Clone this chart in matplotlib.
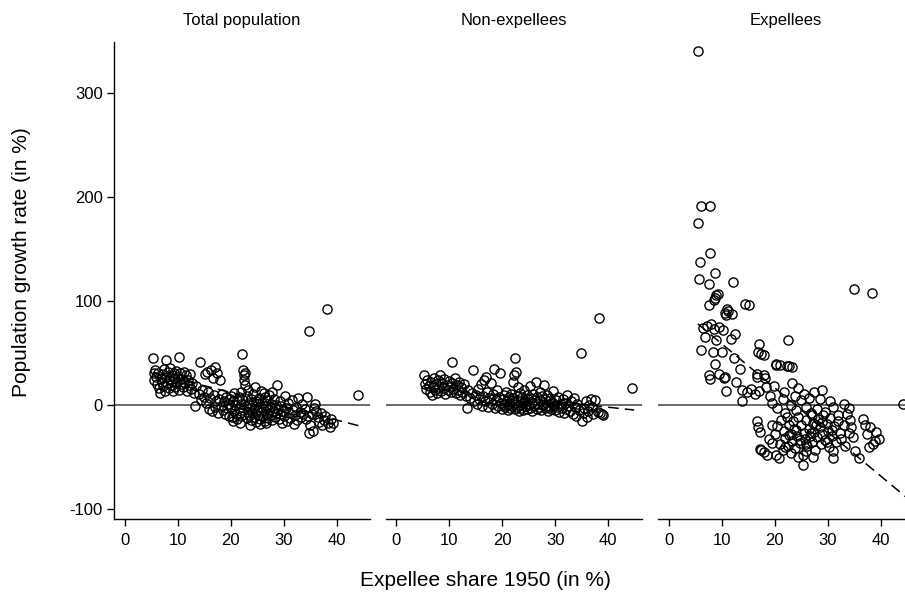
import matplotlib
matplotlib.use("Agg")
import matplotlib.pyplot as plt
import numpy as np

plt.rcParams['font.family'] = ['Liberation Sans', 'DejaVu Sans']
plt.rcParams['axes.unicode_minus'] = False

panel_titles = ["Total population", "Non-expellees", "Expellees"]
x_label = "Expellee share 1950 (in %)"
y_label = "Population growth rate (in %)"
x_ticks = [0, 10, 20, 30, 40]
y_ticks = [-100, 0, 100, 200, 300]

# ---- Total population (x, y) ----
total_pts = [
    (5.3, 45), (5.5, 30), (5.6, 24), (5.8, 33), (6.0, 27), (6.1, 20), (6.3, 30), (6.5, 16), (6.6, 11), (6.8, 25),
    (7.0, 22), (7.1, 29), (7.3, 18), (7.5, 34), (7.6, 13), (7.8, 43), (7.9, 27), (8.0, 21), (8.1, 31), (8.3, 16),
    (8.4, 25), (8.6, 35), (8.7, 19), (8.9, 28), (9.0, 23), (9.1, 13), (9.3, 30), (9.4, 26), (9.6, 17), (9.7, 32),
    (9.9, 22), (10.0, 27), (10.2, 14), (10.3, 46), (10.4, 30), (10.6, 20), (10.8, 25), (11.0, 17), (11.2, 31),
    (11.3, 22), (11.5, 28), (11.7, 13), (11.9, 24), (12.1, 19), (12.3, 29), (12.5, 15), (12.8, 21), (13.0, 11),
    (13.3, -1), (13.5, 18),
    (14.0, 10), (14.2, 41), (14.4, 4), (14.6, 14), (14.9, 7), (15.1, 29), (15.3, 2), (15.5, 31), (15.7, 12),
    (16.0, -4), (16.1, 6), (16.3, 33), (16.5, -6), (16.6, 26), (16.8, 9), (17.0, 36), (17.1, -2), (17.3, 3),
    (17.5, 30), (17.7, -8), (17.9, 5), (18.0, 24), (18.2, -1), (18.4, 10), (18.6, -5), (18.8, 3), (19.0, -9),
    (19.1, 7), (19.3, -3), (19.5, 1), (19.7, -11), (19.9, 5),
    (20.0, -2), (20.1, 8), (20.3, -12), (20.4, 3), (20.6, -6), (20.7, 11), (20.9, 0), (21.0, -9), (21.2, 4),
    (21.3, -14), (21.5, -3), (21.6, 7), (21.8, -8), (21.9, 1), (22.0, -11), (22.2, 49), (22.2, 5), (22.3, 33),
    (22.4, -5), (22.5, 28), (22.6, 24), (22.7, 19), (22.8, 30), (22.9, -1), (23.0, -13), (23.1, 8), (23.2, -7),
    (23.4, 2), (23.5, -10), (23.6, -3), (23.8, 5), (23.9, -15), (24.0, 0), (24.1, -8), (24.3, 10), (24.4, -4),
    (24.5, -12), (24.7, 3), (24.8, -17), (24.9, -6), (25.0, 1), (25.2, -10), (25.3, 6), (25.4, -2), (25.6, -14),
    (25.7, 13), (25.8, -7), (26.0, 2), (26.1, -11), (26.2, -4), (26.4, 7), (26.5, -16), (26.6, -1), (26.8, -9),
    (26.9, 4), (27.0, -13), (27.2, -5), (27.3, 9), (27.4, -2), (27.6, -10), (27.7, 1), (27.9, -15), (28.0, -6),
    (28.1, 5), (28.3, -3), (28.4, -12), (28.6, 0), (28.7, -8), (28.8, 19), (29.0, -4), (29.1, -14), (29.3, 3),
    (29.4, -9), (29.6, -1), (29.7, -18), (29.9, -6), (22.0, 12), (23.3, 14), (24.6, 17), (26.3, 11), (27.8, 12),
    (20.5, -16), (21.7, -18), (23.7, -20), (25.5, -19), (26.7, -18),
    (30.0, -11), (30.2, 8), (30.4, -3), (30.6, -16), (30.8, 2), (31.0, -8), (31.2, -13), (31.5, 4), (31.7, -5),
    (31.9, -19), (32.1, -10), (32.3, -2), (32.6, -15), (32.8, 6), (33.0, -7), (33.2, -12), (33.5, 1), (33.7, -9),
    (34.0, -4), (34.2, -14), (34.4, 7), (34.6, -11), (34.8, 71), (34.8, -27), (35.0, -20), (35.3, -9),
    (35.5, -25), (35.8, -3), (36.0, 1), (36.2, -6), (36.4, -12), (36.6, -17), (37.0, -8), (37.2, -20),
    (37.6, -15), (37.9, -11), (38.1, 92), (38.4, -18), (38.8, -22), (39.3, -18), (39.0, -14), (44.0, 9),
]
total_x = [p[0] for p in total_pts]
total_y = [p[1] for p in total_pts]

# ---- Non-expellees (x, y) ----
nonexp_pts = [
    (5.3, 28), (5.5, 20), (5.7, 15), (5.9, 24), (6.1, 18), (6.3, 12), (6.5, 22), (6.7, 9), (6.9, 17), (7.1, 26),
    (7.3, 14), (7.5, 20), (7.7, 11), (7.9, 24), (8.1, 17), (8.3, 28), (8.5, 13), (8.7, 21), (8.9, 16), (9.1, 25),
    (9.3, 10), (9.5, 19), (9.7, 14), (9.9, 23), (10.1, 17), (10.3, 12), (10.5, 41), (10.6, 21), (10.8, 15),
    (11.0, 26), (11.2, 11), (11.4, 19), (11.6, 14), (11.8, 22), (12.0, 9), (12.2, 17), (12.5, 12), (12.8, 20),
    (13.1, 8), (13.4, -3), (13.6, 14),
    (14.0, 6), (14.3, 11), (14.5, 33), (14.7, 3), (15.0, 9), (15.2, 1), (15.4, 15), (15.7, 5), (16.0, 20),
    (16.2, -1), (16.4, 8), (16.6, 24), (16.8, 3), (17.0, 27), (17.2, 12), (17.4, -2), (17.6, 6), (17.8, 21),
    (18.0, 1), (18.2, 10), (18.4, 34), (18.6, -3), (18.8, 4), (19.0, 14), (19.2, -1), (19.4, 7), (19.6, 30),
    (19.8, 2),
    (20.0, -4), (20.1, 5), (20.3, 9), (20.4, 0), (20.6, -2), (20.7, 12), (20.9, 3), (21.0, -5), (21.2, 7),
    (21.3, 1), (21.5, -3), (21.6, 10), (21.8, 4), (21.9, -1), (22.0, 6), (22.1, 22), (22.2, 28), (22.4, 45),
    (22.4, -4), (22.5, 2), (22.6, 31), (22.7, 8), (22.8, -2), (22.9, 17), (23.0, 4), (23.2, -6), (23.3, 11),
    (23.4, 0), (23.6, -3), (23.7, 7), (23.9, 2), (24.0, -5), (24.1, 14), (24.3, 3), (24.4, -1), (24.6, 9),
    (24.7, -4), (24.9, 5), (25.0, 0), (25.2, 18), (25.3, -3), (25.4, 6), (25.6, 2), (25.7, -6), (25.9, 10),
    (26.0, -1), (26.2, 4), (26.3, 22), (26.5, -4), (26.6, 7), (26.8, 1), (26.9, -2), (27.1, 12), (27.2, 4),
    (27.4, -5), (27.5, 8), (27.7, 0), (27.8, 19), (28.0, -3), (28.1, 5), (28.3, -1), (28.5, 9), (28.6, -6),
    (28.8, 3), (29.0, -2), (29.1, 6), (29.3, -4), (29.5, 2), (29.6, 13), (29.8, -1),
    (30.0, -5), (30.2, 4), (30.4, -2), (30.6, 7), (30.8, -7), (31.0, 1), (31.2, -3), (31.4, 5), (31.6, -8),
    (31.8, 2), (32.0, -4), (32.3, 9), (32.5, -1), (32.8, -6), (33.0, 3), (33.3, -9), (33.5, 6), (33.8, -2),
    (34.0, -11), (34.2, 1), (34.5, -5), (34.8, 50), (35.0, -16), (35.2, -8), (35.5, -3), (35.8, 3), (36.0, -12),
    (36.2, -6), (36.4, 0), (36.7, 5), (37.0, -2), (37.2, -9), (37.5, 4), (38.2, 83), (38.0, -7), (38.5, -8),
    (38.8, -9), (39.0, -10), (44.4, 16),
]
nonexp_x = [p[0] for p in nonexp_pts]
nonexp_y = [p[1] for p in nonexp_pts]

# ---- Expellees (x, y) ----
exp_pts = [
    (5.5, 340), (6.2, 191), (7.9, 191), (5.5, 175), (7.9, 146), (6.0, 137), (8.7, 127), (5.7, 121), (7.7, 116),
    (12.1, 118), (35.0, 111), (38.4, 107), (8.6, 101), (8.8, 103), (9.0, 105), (9.3, 106), (7.7, 96), (14.5, 97),
    (15.1, 96), (10.6, 88), (11.0, 92), (11.3, 90), (11.9, 87), (10.9, 86), (6.5, 74), (7.2, 76), (8.0, 78),
    (8.5, 73), (9.5, 75), (10.3, 72), (6.8, 65), (9.0, 62), (11.8, 63), (12.6, 68), (6.2, 53), (8.3, 51),
    (10.0, 51), (12.3, 45), (17.0, 58), (16.9, 51), (17.5, 49), (18.0, 48), (22.5, 62), (8.8, 39), (13.4, 34),
    (20.2, 39), (21.0, 38), (22.8, 37), (23.3, 36), (7.7, 28), (10.5, 26), (16.6, 29), (18.0, 28), (7.9, 25),
    (9.5, 29), (10.6, 27), (10.9, 13), (13.8, 14), (13.9, 3), (16.7, 27), (18.2, 26), (15.5, 15), (16.3, 10),
    (17.0, 13), (18.3, 17), (19.2, 8), (20.3, 38), (22.4, 37), (23.3, 21), (24.5, 16), (25.5, 10), (26.5, 6),
    (27.5, 12), (28.5, 5), (29.0, 14.5), (30.4, 3), (12.8, 22), (14.8, 12), (19.8, 18), (21.7, 12), (23.8, 8),
    (19.5, 2), (20.5, -3), (21.5, 5), (22.0, -8), (23.0, 0), (24.0, -5), (25.0, 4), (26.0, -2), (27.0, -10),
    (28.0, -4), (29.5, -7), (31.0, -2), (32.0, -10), (33.0, 1), (34.0, -3), (44.2, 1),
    (16.6, -16), (16.8, -22), (17.2, -26), (17.2, -43), (17.5, -44), (18.0, -46), (18.5, -48), (19.0, -33),
    (19.5, -20), (20.0, -28), (20.3, -48), (20.8, -51), (21.0, -38), (21.5, -44), (21.2, -15), (21.8, -25),
    (22.0, -32), (22.3, -12), (22.5, -40), (22.8, -20), (23.0, -28), (23.2, -35), (23.5, -16), (23.8, -42),
    (24.0, -24), (24.2, -30), (24.5, -12), (24.7, -37), (25.0, -20), (25.3, -58), (25.3, -48), (25.5, -27),
    (25.7, -33), (26.0, -15), (26.2, -40), (26.4, -23), (26.6, -30), (26.8, -8), (27.0, -36), (27.2, -50),
    (27.2, -18), (27.5, -26), (27.7, -44), (28.0, -31), (28.2, -14), (28.5, -22), (28.7, -38), (29.0, -28),
    (29.2, -10), (29.5, -34), (29.8, -19), (30.0, -25), (30.3, -41), (30.5, -13), (30.8, -30), (31.0, -45),
    (31.0, -51), (31.3, -21), (31.6, -36), (32.0, -16), (32.3, -27), (32.6, -33), (33.0, -20), (33.3, -40),
    (33.6, -9), (34.0, -27), (34.2, -15), (34.4, -22), (34.8, -31), (35.2, -45), (36.0, -51), (36.6, -14),
    (37.0, -20), (37.5, -28), (38.0, -22), (38.5, -38), (39.0, -35), (39.7, -33), (37.8, -41), (39.2, -26),
    (26.0, -45), (24.5, -50), (23.0, -47), (19.5, -37), (20.5, -21), (22.7, -29), (24.8, -34), (26.9, -27),
    (28.9, -17), (30.9, -24), (21.9, -41), (23.6, -23), (25.9, -38), (27.9, -20), (29.9, -36),
]
exp_x = [p[0] for p in exp_pts]
exp_y = [p[1] for p in exp_pts]

# linear fit lines (intercept, slope)
fit_intercept = [38.0, 19.5, 101.0]
fit_slope = [-1.32, -0.55, -4.24]

W, H = 905, 592
fig = plt.figure(figsize=(W / 100, H / 100), dpi=100)

ax_left = [114, 385.6, 658]
ax_w = 256
ax_top, ax_bot = 41.7, 519
xs_all = [total_x, nonexp_x, exp_x]
ys_all = [total_y, nonexp_y, exp_y]

for i in range(3):
    ax = fig.add_axes([ax_left[i] / W, 1 - ax_bot / H, ax_w / W, (ax_bot - ax_top) / H])
    ax.set_xlim(-2, 46.3)
    ax.set_ylim(-110, 349)
    ax.axhline(0, color='#505050', lw=1.2, zorder=1)
    xs = np.array(xs_all[i])
    xl = np.linspace(xs.min(), xs.max() + 0.5, 50)
    ax.plot(xl, fit_intercept[i] + fit_slope[i] * xl, color='black', lw=1.1,
            dashes=(7, 4), zorder=2)
    ax.plot(xs_all[i], ys_all[i], 'o', ms=6.6, mfc='none', mec='black', mew=1.0, zorder=3)
    for s in ['top', 'right']:
        ax.spines[s].set_visible(False)
    ax.spines['bottom'].set_linewidth(1.0)
    ax.set_xticks(x_ticks)
    ax.tick_params(axis='x', length=5, width=1.0, labelsize=12, pad=5)
    if i == 0:
        ax.spines['left'].set_linewidth(1.0)
        ax.set_yticks(y_ticks)
        ax.tick_params(axis='y', length=5, width=1.0, labelsize=12, pad=3)
    else:
        ax.spines['left'].set_visible(False)
        ax.set_yticks([])
    fig.text((ax_left[i] + ax_w / 2) / W, 1 - 20 / H, panel_titles[i],
             ha='center', va='center', fontsize=12)

fig.text(485 / W, 1 - 580 / H, x_label, ha='center', va='center', fontsize=15)
fig.text(22 / W, 1 - 262 / H, y_label, ha='center', va='center', rotation=90, fontsize=15)

fig.savefig("out.png", dpi=100)
